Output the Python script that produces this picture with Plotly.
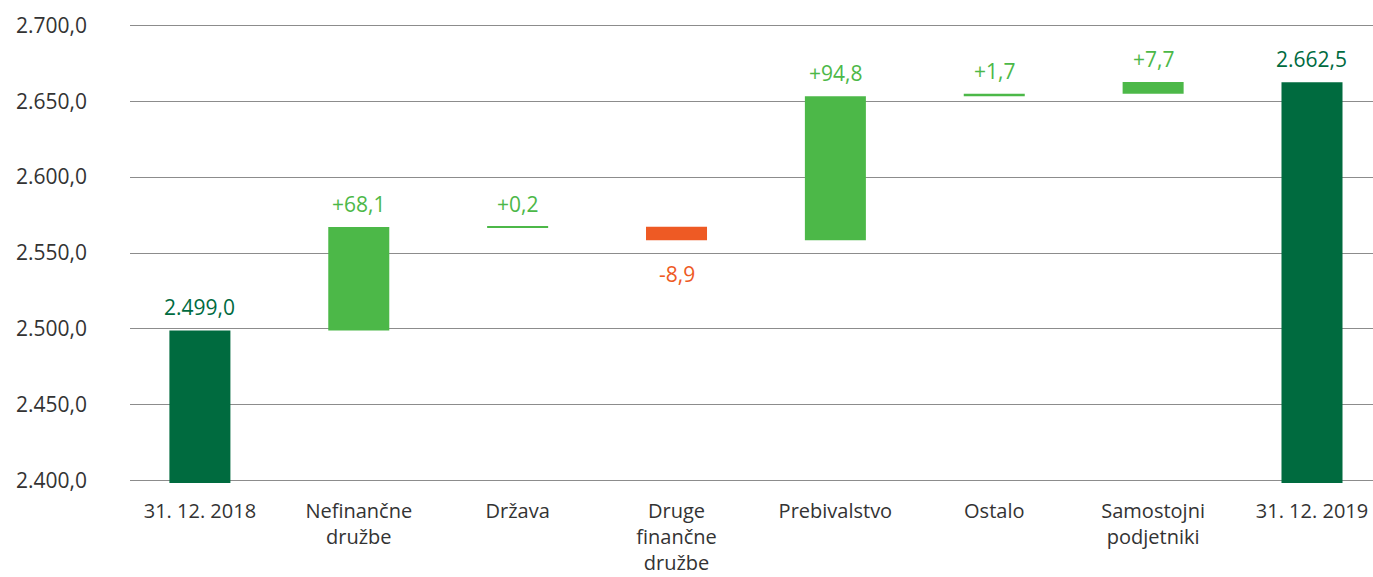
import plotly.graph_objects as go

categories = ["31. 12. 2018", "Nefinančne<br>družbe", "Država", "Druge<br>finančne<br>družbe",
              "Prebivalstvo", "Ostalo", "Samostojni<br>podjetniki", "31. 12. 2019"]
values = [2499.0, 68.1, 0.2, -8.9, 94.8, 1.7, 7.7, 2662.5]
measures = ["absolute", "relative", "relative", "relative", "relative", "relative", "relative", "absolute"]
labels = ["2.499,0", "+68,1", "+0,2", "-8,9", "+94,8", "+1,7", "+7,7", "2.662,5"]
y_ticks = [2400, 2450, 2500, 2550, 2600, 2650, 2700]

DARK = "#006B3F"
LIGHT = "#4CB848"
ORANGE = "#EE5A24"
FONT = "Open Sans"

x_pos = list(range(len(categories)))

fig = go.Figure(go.Waterfall(
    x=x_pos,
    y=values,
    measure=measures,
    increasing=dict(marker=dict(color=LIGHT)),
    decreasing=dict(marker=dict(color=ORANGE)),
    totals=dict(marker=dict(color=DARK)),
    connector=dict(visible=False),
    width=0.384,
    hoverinfo="skip",
))

# value labels placed at bar ends (computed from the data)
running = 0.0
for i, (v, m, lab) in enumerate(zip(values, measures, labels)):
    if m == "absolute":
        start, end = 0.0, v
        running = v
        color = DARK
    else:
        start, end = running, running + v
        running = end
        color = LIGHT if v >= 0 else ORANGE
    if v >= 0:
        fig.add_annotation(x=i, y=max(start, end), text=lab, showarrow=False,
                           yanchor="bottom", yshift=7,
                           font=dict(color=color, size=21, family=FONT))
    else:
        fig.add_annotation(x=i, y=min(start, end), text=lab, showarrow=False,
                           yanchor="top", yshift=-18,
                           font=dict(color=color, size=21, family=FONT))

fig.update_layout(
    width=1373, height=577,
    margin=dict(l=130, r=0, t=23, b=94),
    paper_bgcolor="white", plot_bgcolor="white",
    separators=",.",
    showlegend=False,
    font=dict(family=FONT, color="#333333", size=20),
)
fig.update_xaxes(
    tickmode="array", tickvals=x_pos, ticktext=categories,
    range=[-0.44, 7.384], showgrid=False, zeroline=False, showline=False,
    ticks="", ticklabelstandoff=14, tickfont=dict(size=20, color="#333333"), automargin=False,
)
fig.update_yaxes(
    range=[2398.5, 2701.5], tickvals=y_ticks, tickformat=",.1f",
    showgrid=True, gridcolor="#8c8c8c", gridwidth=1.3, zeroline=False, showline=False,
    ticks="", ticklabelstandoff=42, tickfont=dict(size=21, color="#333333"), automargin=False,
)

fig.write_html(
    "out.html",
    config={"displayModeBar": False},
    post_script="document.body.style.margin='0';document.body.style.overflow='hidden';",
)
